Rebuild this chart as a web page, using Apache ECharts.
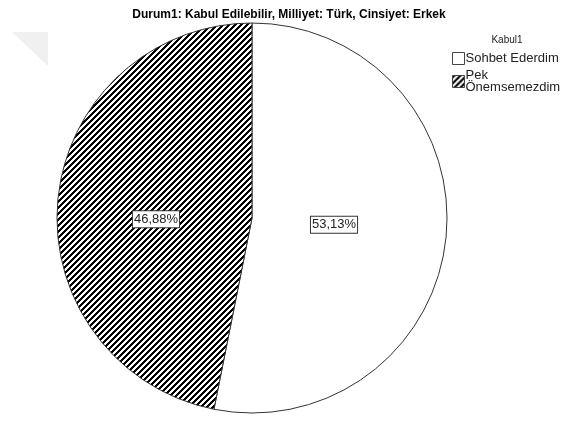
<!DOCTYPE html>
<html>
<head>
<meta charset="utf-8">
<script src="https://cdn.jsdelivr.net/npm/echarts@6/dist/echarts.min.js"></script>
<style>
html, body { margin: 0; padding: 0; background: #fff; }
#main { width: 569px; height: 421px; }
</style>
</head>
<body>
<div id="main"></div>
<script>
// veriler
var categories = ['Sohbet Ederdim', 'Pek\nÖnemsemezdim'];
var values = [53.13, 46.88];
var labels = ['53,13%', '46,88%'];

// taralı desen
function hatch() {
    var c = document.createElement('canvas');
    c.width = 6; c.height = 6;
    var ctx = c.getContext('2d');
    var img = ctx.createImageData(6, 6);
    for (var y = 0; y < 6; y++) {
        for (var x = 0; x < 6; x++) {
            var v = ((x + y) % 6) < 3 ? 0 : 255;
            var i = (y * 6 + x) * 4;
            img.data[i] = v; img.data[i + 1] = v; img.data[i + 2] = v; img.data[i + 3] = 255;
        }
    }
    ctx.putImageData(img, 0, 0);
    return c;
}

var fills = ['#ffffff', {image: hatch(), repeat: 'repeat'}];
// etiket kaydırma (dx, dy)
var labelShift = [[-18, -3], [4, 11]];

var chart = echarts.init(document.getElementById('main'));
chart.setOption({
    animation: false,
    title: [{
        text: 'Durum1: Kabul Edilebilir, Milliyet: Türk, Cinsiyet: Erkek',
        left: 284, top: 4, textAlign: 'center',
        textStyle: {fontFamily: 'Liberation Sans', fontSize: 12, fontWeight: 'bold', color: '#000'}
    }, {
        text: 'Kabul1',
        left: 502, top: 30, textAlign: 'center',
        textStyle: {fontFamily: 'Liberation Sans', fontSize: 10, fontWeight: 'normal', color: '#222'}
    }],
    graphic: [{
        type: 'polygon',
        shape: {points: [[12, 32], [48, 32], [48, 66]]},
        style: {fill: '#f0f0f0'}
    }],
    legend: {
        orient: 'vertical',
        left: 447, top: 47,
        itemWidth: 12, itemHeight: 12,
        itemGap: 4,
        icon: 'rect',
        itemStyle: {borderWidth: 1, borderColor: '#444'},
        textStyle: {fontFamily: 'Liberation Sans', fontSize: 13, color: '#222', padding: [0, 0, 0, -4], lineHeight: 12},
        data: categories
    },
    series: [{
        type: 'pie',
        center: [252, 218],
        radius: 195,
        startAngle: 90,
        clockwise: true,
        label: {
            position: 'inside',
            formatter: function (p) { return labels[p.dataIndex]; },
            fontFamily: 'Liberation Sans', fontSize: 13, color: '#222',
            backgroundColor: '#fff', borderColor: '#333', borderWidth: 1,
            padding: [2, 1, 1, 1]
        },
        labelLayout: function (p) {
            return {dx: labelShift[p.dataIndex][0], dy: labelShift[p.dataIndex][1]};
        },
        labelLine: {show: false},
        emphasis: {disabled: true},
        itemStyle: {borderColor: '#333', borderWidth: 1},
        data: categories.map(function (n, i) {
            return {name: n, value: values[i], itemStyle: {color: fills[i]}};
        })
    }]
});
</script>
</body>
</html>
